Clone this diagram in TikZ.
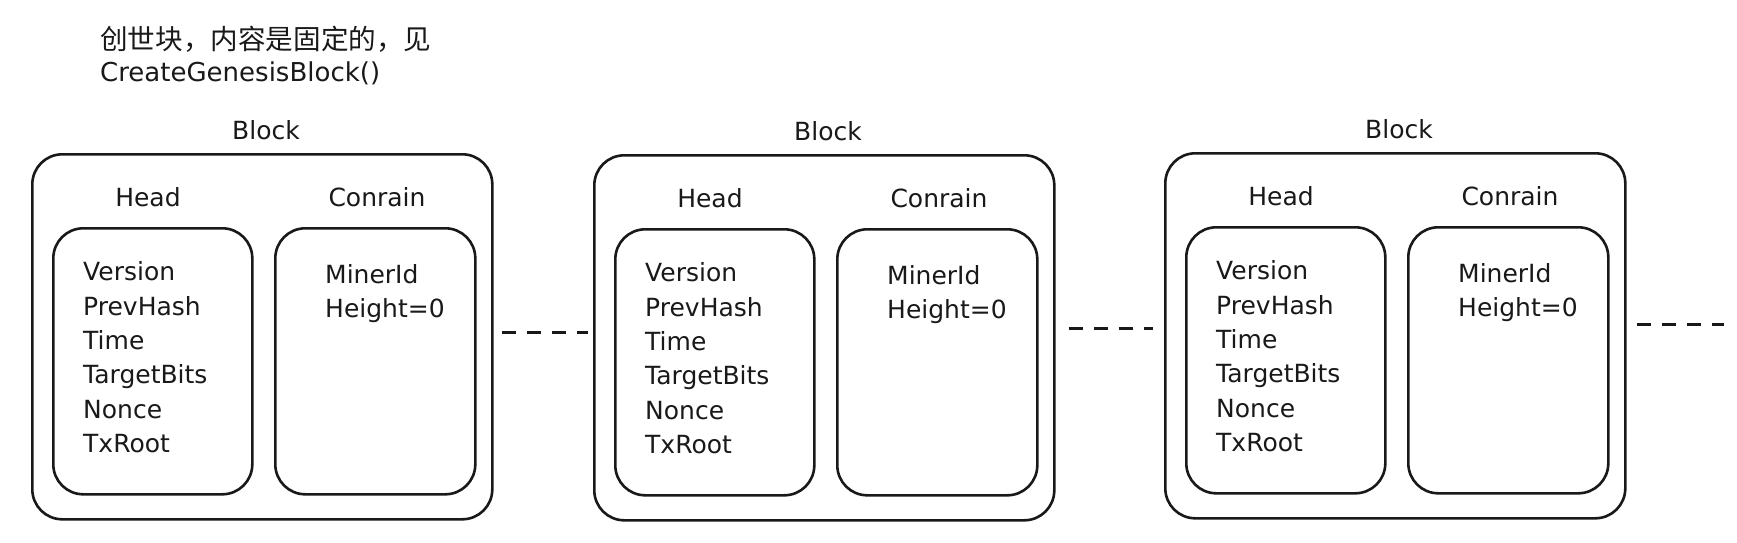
\documentclass[tikz,border=0pt]{standalone}
\usepackage{fontspec}
\setmainfont{DejaVu Sans}
\newfontfamily\cjk{Noto Sans CJK SC}
\begin{document}
\begin{tikzpicture}[x=1pt,y=-1pt,
  outerbox/.style={draw=black!90, line width=2.6pt, rounded corners=30pt, anchor=north west, inner sep=0pt, minimum width=460pt, minimum height=365pt},
  innerbox/.style={draw=black!90, line width=2.6pt, rounded corners=30pt, anchor=north west, inner sep=0pt, minimum width=199pt, minimum height=266pt},
  lbl/.style={inner sep=0pt, font=\fontsize{25}{30}\selectfont, text=black!90},
  fld/.style={anchor=base west, inner sep=0pt, font=\fontsize{25}{30}\selectfont, text=black!90},
  ttl/.style={anchor=west, inner sep=0pt, font=\fontsize{26}{30}\selectfont, text=black!90},
  link/.style={draw=black!90, line width=3pt, dash pattern=on 14pt off 11pt}]
\useasboundingbox (0,0) rectangle (1737,543);
\fill[white] (0,0) rectangle (1737,543);

\node[ttl, font=\fontsize{27.6}{30}\selectfont] (t1) at (100,39) {\cjk 创世块，内容是固定的，见};
\node[ttl] (t2) at (100,73) {CreateGenesisBlock()};

\foreach \i/\dx/\dy in {1/0/0, 2/562/1, 3/1133/-1} {
  \begin{scope}[shift={(\dx,\dy)}]
    \node[outerbox] (b\i) at (31,153) {};
    \node[lbl] (bl\i) at (266,130) {Block};
    \node[lbl] (hl\i) at (148,197) {Head};
    \node[lbl] (cl\i) at (377,197) {Conrain};
    \node[innerbox] (h\i) at (52,227) {};
    \node[innerbox, minimum width=200pt] (c\i) at (274,227) {};
    \node[fld] (f\i a) at (83,280) {Version};
    \node[fld] (f\i b) at (83,315) {PrevHash};
    \node[fld] (f\i c) at (83,349) {Time};
    \node[fld] (f\i d) at (83,383) {TargetBits};
    \node[fld] (f\i e) at (83,418) {Nonce};
    \node[fld] (f\i f) at (83,452) {TxRoot};
    \node[fld] (m\i a) at (325,283) {MinerId};
    \node[fld] (m\i b) at (325,317) {Height=0};
  \end{scope}
}

\coordinate (y1) at (0,332);
\coordinate (y2) at (0,328);
\coordinate (tail) at (1724,324);
\draw[link, shorten <=8pt, shorten >=5pt] (b1.east |- y1) -- (b2.west |- y1);
\draw[link, shorten <=13pt, shorten >=11pt] (b2.east |- y2) -- (b3.west |- y2);
\draw[link, shorten <=10pt] (b3.east |- tail) -- (tail);
\end{tikzpicture}
\end{document}
